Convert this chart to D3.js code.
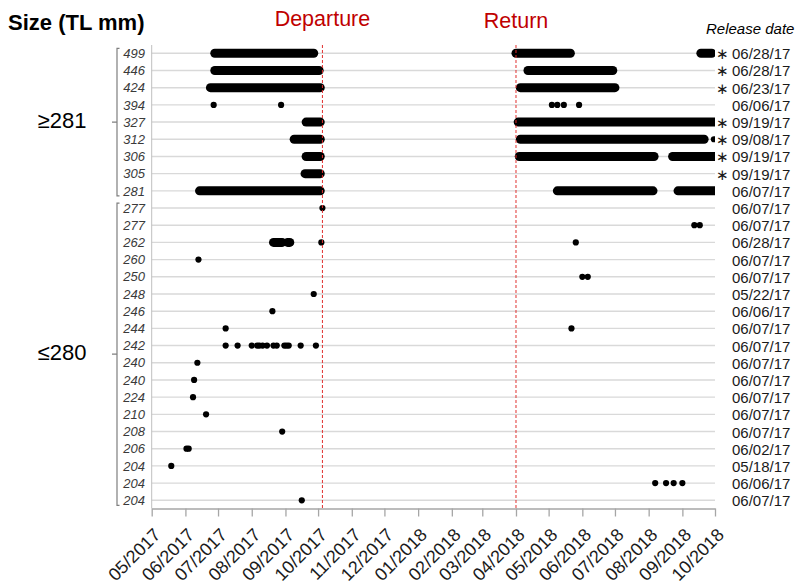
<!DOCTYPE html>
<html>
<head>
<meta charset="utf-8">
<script src="https://cdn.jsdelivr.net/npm/d3@7"></script>
<style>
body { margin: 0; background: #fff; }
text { font-family: Arial, "Liberation Sans", sans-serif; }
</style>
</head>
<body>
<div id="chart"></div>
<script>
const fig_width = 803;
const fig_height = 585;

// one row per tagged fish, top to bottom
const sizes = ["499", "446", "424", "394", "327", "312", "306", "305", "281",
    "277", "277", "262", "260", "250", "248", "246", "244", "242", "240", "240",
    "224", "210", "208", "206", "204", "204", "204"];
const release_dates = ["06/28/17", "06/28/17", "06/23/17", "06/06/17", "09/19/17",
    "09/08/17", "09/19/17", "09/19/17", "06/07/17", "06/07/17", "06/07/17", "06/28/17",
    "06/07/17", "06/07/17", "05/22/17", "06/06/17", "06/07/17", "06/07/17", "06/07/17",
    "06/07/17", "06/07/17", "06/07/17", "06/07/17", "06/02/17", "05/18/17", "06/06/17",
    "06/07/17"];
const starred = [1, 1, 1, 0, 1, 1, 1, 1, 0, 0, 0, 0, 0, 0, 0, 0, 0, 0, 0, 0, 0, 0, 0, 0, 0, 0, 0];

const group_labels = ["≥281", "≤280"];
const group_first = [0, 9];
const group_last = [8, 26];

const event_labels = ["Departure", "Return"];
const event_dates = ["2017-10-05", "2018-04-01"];

const month_ticks_from = "2017-05-01";
const month_ticks_to = "2018-10-01";

// continuous detection runs: [row, first day, last day]
const runs = [
    [0, "2017-06-28", "2017-09-27"], [0, "2018-04-01", "2018-05-21"], [0, "2018-09-18", "2018-09-28"],
    [1, "2017-06-28", "2017-10-02"], [1, "2018-04-12", "2018-06-29"],
    [2, "2017-06-24", "2017-10-03"], [2, "2018-04-05", "2018-07-01"],
    [4, "2017-09-20", "2017-10-03"], [4, "2018-04-03", "2018-10-01"],
    [5, "2017-09-09", "2017-10-03"], [5, "2018-04-05", "2018-09-21"],
    [6, "2017-09-20", "2017-10-03"], [6, "2018-04-04", "2018-08-06"], [6, "2018-08-23", "2018-10-01"],
    [7, "2017-09-19", "2017-10-03"],
    [8, "2017-06-14", "2017-10-03"], [8, "2018-05-09", "2018-08-05"], [8, "2018-08-28", "2018-10-01"],
    [11, "2017-08-21", "2017-08-29"], [11, "2017-09-03", "2017-09-05"]
];

// single detections: [row, day]
const hits = [
    [3, "2017-06-27"], [3, "2017-08-28"], [3, "2018-05-04"], [3, "2018-05-09"], [3, "2018-05-15"], [3, "2018-05-29"],
    [5, "2018-09-30"],
    [9, "2017-10-05"],
    [10, "2018-09-12"], [10, "2018-09-17"],
    [11, "2017-10-04"], [11, "2018-05-26"],
    [12, "2017-06-13"],
    [13, "2018-06-01"], [13, "2018-06-06"],
    [14, "2017-09-27"],
    [15, "2017-08-20"],
    [16, "2017-07-08"], [16, "2018-05-22"],
    [17, "2017-07-08"], [17, "2017-07-19"], [17, "2017-08-01"], [17, "2017-08-06"], [17, "2017-08-08"],
    [17, "2017-08-11"], [17, "2017-08-15"], [17, "2017-08-21"], [17, "2017-08-24"], [17, "2017-08-31"],
    [17, "2017-09-02"], [17, "2017-09-04"], [17, "2017-09-15"], [17, "2017-09-29"],
    [18, "2017-06-12"],
    [19, "2017-06-09"],
    [20, "2017-06-08"],
    [21, "2017-06-20"],
    [22, "2017-08-29"],
    [23, "2017-06-02"], [23, "2017-06-04"],
    [24, "2017-05-19"],
    [25, "2018-08-07"], [25, "2018-08-17"], [25, "2018-08-24"], [25, "2018-09-01"],
    [26, "2017-09-16"]
];

const plot_left = 151.7, plot_right = 715, plot_top = 45, plot_bottom = 508.5;
const parse = d3.timeParse("%Y-%m-%d");

const svg = d3.select("#chart")
    .append("svg")
    .attr("width", fig_width)
    .attr("height", fig_height);

const x = d3.scaleTime()
    .domain([parse(month_ticks_from), parse(month_ticks_to)])
    .range([plot_left, plot_right]);

const y = d3.scalePoint()
    .domain(d3.range(sizes.length))
    .range([53.3, 500.3]);

svg.append("defs").append("clipPath")
    .attr("id", "plotclip")
    .append("rect")
    .attr("x", plot_left)
    .attr("y", plot_top)
    .attr("width", plot_right - plot_left)
    .attr("height", plot_bottom - plot_top);

// horizontal row lines
svg.append("g")
    .selectAll("line")
    .data(d3.range(sizes.length))
    .join("line")
    .attr("x1", plot_left)
    .attr("x2", plot_right)
    .attr("y1", i => y(i))
    .attr("y2", i => y(i))
    .attr("stroke", "#d9d9d9")
    .attr("stroke-width", 1.4);

svg.append("line")
    .attr("x1", plot_left).attr("x2", plot_left)
    .attr("y1", plot_top).attr("y2", plot_bottom)
    .attr("stroke", "#bfbfbf")
    .attr("stroke-width", 1);

// detections
const marks = svg.append("g").attr("clip-path", "url(#plotclip)");

marks.selectAll(".run")
    .data(runs)
    .join("line")
    .attr("class", "run")
    .attr("x1", d => x(parse(d[1])))
    .attr("x2", d => x(parse(d[2])))
    .attr("y1", d => y(d[0]))
    .attr("y2", d => y(d[0]))
    .attr("stroke", "#000")
    .attr("stroke-width", 9)
    .attr("stroke-linecap", "round");

marks.selectAll(".hit")
    .data(hits)
    .join("circle")
    .attr("class", "hit")
    .attr("cx", d => x(parse(d[1])))
    .attr("cy", d => y(d[0]))
    .attr("r", 3.1)
    .attr("fill", "#000");

// departure / return
svg.selectAll(".event")
    .data(event_dates)
    .join("line")
    .attr("class", "event")
    .attr("x1", d => x(parse(d)))
    .attr("x2", d => x(parse(d)))
    .attr("y1", plot_top)
    .attr("y2", plot_bottom)
    .attr("stroke", "#e0302f")
    .attr("stroke-width", 1)
    .attr("stroke-dasharray", "3,2");

svg.selectAll(".event_label")
    .data(event_labels)
    .join("text")
    .attr("class", "event_label")
    .attr("x", (d, i) => x(parse(event_dates[i])))
    .attr("y", (d, i) => i ? 28 : 26)
    .attr("text-anchor", "middle")
    .attr("font-size", 21.5)
    .attr("fill", "#c00000")
    .text(d => d);

// x axis
const xAxis = svg.append("g")
    .attr("transform", `translate(0,${plot_bottom})`)
    .call(d3.axisBottom(x)
        .ticks(d3.timeMonth.every(1))
        .tickFormat(d3.timeFormat("%m/%Y"))
        .tickSize(8)
        .tickSizeOuter(0));

xAxis.select(".domain").attr("stroke", "#a6a6a6").attr("stroke-width", 1.3);
xAxis.selectAll(".tick line").attr("stroke", "#a6a6a6").attr("stroke-width", 1.3);
xAxis.selectAll(".tick text")
    .attr("x", 0)
    .attr("y", 0)
    .attr("dy", "0.35em")
    .attr("transform", "translate(5,23) rotate(-45)")
    .style("text-anchor", "end")
    .attr("font-size", 18)
    .attr("font-family", "Arial, 'Liberation Sans', sans-serif")
    .attr("fill", "#1a1a1a");

// row size labels
svg.selectAll(".size_label")
    .data(sizes)
    .join("text")
    .attr("class", "size_label")
    .attr("x", 145)
    .attr("y", (d, i) => y(i))
    .attr("dy", "0.36em")
    .attr("text-anchor", "end")
    .attr("font-size", 13)
    .attr("font-style", "italic")
    .attr("fill", "#3a3a3a")
    .text(d => d);

// release dates and stars on the right
svg.selectAll(".release")
    .data(release_dates)
    .join("text")
    .attr("class", "release")
    .attr("x", 732)
    .attr("y", (d, i) => y(i))
    .attr("dy", "0.4em")
    .attr("font-size", 15)
    .attr("fill", "#1a1a1a")
    .text(d => d);

svg.selectAll(".star")
    .data(starred)
    .join("text")
    .attr("class", "star")
    .attr("x", 722)
    .attr("y", (d, i) => y(i))
    .attr("dy", "0.4em")
    .attr("text-anchor", "middle")
    .attr("font-size", 15)
    .attr("font-family", "'DejaVu Sans', sans-serif")
    .attr("fill", "#1a1a1a")
    .text(d => d ? "∗" : "");

svg.append("text")
    .attr("x", 706)
    .attr("y", 34)
    .attr("font-size", 15)
    .attr("font-style", "italic")
    .attr("fill", "#000")
    .text("Release date");

svg.append("text")
    .attr("x", 8)
    .attr("y", 30)
    .attr("font-size", 22)
    .attr("font-weight", "bold")
    .attr("fill", "#000")
    .text("Size (TL mm)");

// size group brackets
const brackets = svg.append("g");
group_labels.forEach((label, i) => {
    const top = y(group_first[i]) - 5;
    const bottom = y(group_last[i]) + 5;
    const mid = (top + bottom) / 2;
    brackets.append("path")
        .attr("d", `M119.5,${top}H117V${bottom}H119.5M117,${mid}H112`)
        .attr("fill", "none")
        .attr("stroke", "#7f7f7f")
        .attr("stroke-width", 1.2);
    brackets.append("text")
        .attr("x", 62)
        .attr("y", mid + 6)
        .attr("text-anchor", "middle")
        .attr("font-size", 22)
        .attr("fill", "#000")
        .text(label);
});
</script>
</body>
</html>
